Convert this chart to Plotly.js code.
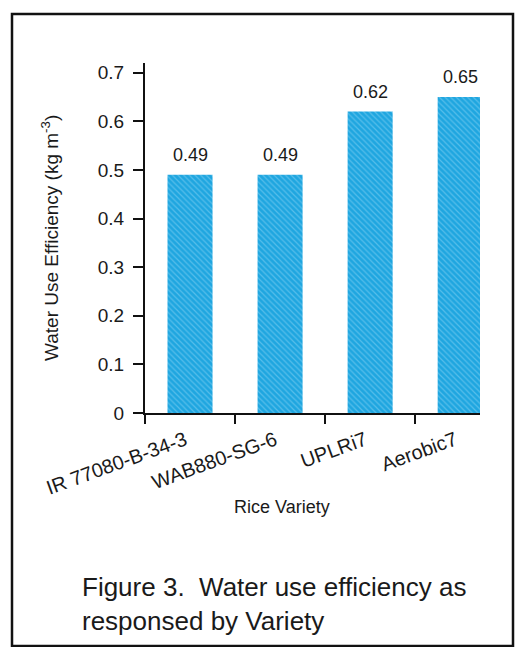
<!DOCTYPE html>
<html>
<head>
<meta charset="utf-8">
<script src="https://cdn.plot.ly/plotly-3.0.1.min.js"></script>
<style>
  html, body { margin: 0; padding: 0; background: #fff; }
  #chart { width: 530px; height: 647px; }
</style>
</head>
<body>
<div id="chart"></div>
<script>
// ---- data ----
const varieties = ["IR 77080-B-34-3", "WAB880-SG-6", "UPLRi7", "Aerobic7"];
const wue = [0.49, 0.49, 0.62, 0.65];
const valueLabels = ["0.49", "0.49", "0.62", "0.65"];
const yTickVals = [0, 0.1, 0.2, 0.3, 0.4, 0.5, 0.6, 0.7];
const yTickText = ["0", "0.1", "0.2", "0.3", "0.4", "0.5", "0.6", "0.7"];
const yTitle = "Water Use Efficiency (kg m<sup>-3</sup>)";
const xTitle = "Rice Variety";
const caption = "Figure 3.  Water use efficiency as<br>responsed by Variety";

const FONT = "Liberation Sans, Arial, Helvetica, sans-serif";
const INK = "#1a1a1a";

const trace = {
  type: "bar",
  x: varieties,
  y: wue,
  width: 0.5,
  marker: {
    color: "#1fa6e0",
    line: { width: 0 },
    pattern: {
      shape: "\\",
      fillmode: "overlay",
      bgcolor: "#1fa6e0",
      fgcolor: "#8ed5f3",
      size: 4,
      solidity: 0.3
    }
  },
  hoverinfo: "x+y",
  showlegend: false
};

const valueAnn = varieties.map((v, i) => ({
  x: v, y: wue[i], xref: "x", yref: "y",
  text: valueLabels[i], showarrow: false,
  yanchor: "middle", yshift: 20,
  font: { family: FONT, size: 18, color: INK }
}));

const layout = {
  width: 530, height: 647,
  margin: { l: 145, r: 50, t: 63, b: 234 },
  paper_bgcolor: "#ffffff",
  plot_bgcolor: "#ffffff",
  font: { family: FONT, color: INK },
  bargap: 0.5,
  xaxis: {
    type: "category",
    range: [-0.5, 3.22],
    showline: true, linecolor: "#111", linewidth: 2,
    ticks: "outside", tickson: "boundaries", ticklen: 9, tickwidth: 2, tickcolor: "#111",
    tickangle: -20,
    ticklabelstandoff: 6,
    ticklabelshift: -5,
    tickfont: { family: FONT, size: 20, color: INK },
    showgrid: false, zeroline: false, fixedrange: true
  },
  yaxis: {
    range: [0, 0.72],
    tickvals: yTickVals, ticktext: yTickText,
    showline: true, linecolor: "#111", linewidth: 2,
    ticks: "outside", ticklen: 10, tickwidth: 2, tickcolor: "#111",
    ticklabelstandoff: 5,
    tickfont: { family: FONT, size: 19, color: INK },
    showgrid: false, zeroline: false, fixedrange: true
  },
  annotations: valueAnn.concat([
    {
      xref: "paper", yref: "paper", x: (50 - 145) / 335, y: (413 - 238) / 350,
      text: yTitle, textangle: -90, showarrow: false,
      xanchor: "center", yanchor: "middle",
      font: { family: FONT, size: 19, color: INK }
    },
    {
      xref: "paper", yref: "paper", x: (282 - 145) / 335, y: (413 - 507) / 350,
      text: xTitle, showarrow: false,
      xanchor: "center", yanchor: "middle",
      font: { family: FONT, size: 18, color: INK }
    },
    {
      xref: "paper", yref: "paper", x: (80 - 145) / 335, y: (413 - 604) / 350,
      text: caption, showarrow: false, align: "left",
      xanchor: "left", yanchor: "middle",
      font: { family: FONT, size: 26, color: INK }
    }
  ]),
  shapes: [
    {
      type: "rect", xref: "paper", yref: "paper",
      x0: (12 - 145) / 335, x1: (513 - 145) / 335,
      y0: (413 - 646) / 350, y1: (413 - 14) / 350,
      line: { color: "#111", width: 2.5 }, fillcolor: "rgba(0,0,0,0)",
      layer: "below"
    }
  ]
};

Plotly.newPlot("chart", [trace], layout, { displayModeBar: false, staticPlot: true });
</script>
</body>
</html>
